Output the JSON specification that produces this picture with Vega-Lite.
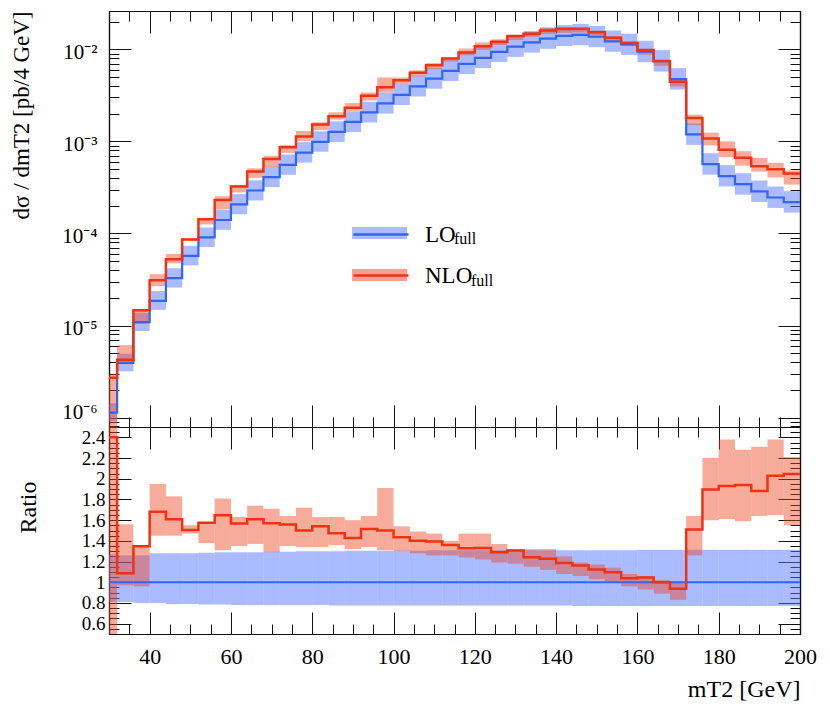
{
  "$schema": "https://vega.github.io/schema/vega-lite/v6.json",
  "background": "white",
  "padding": {"left": 9, "top": 10, "right": 10, "bottom": 4},
  "spacing": 0,
  "bounds": "flush",
  "resolve": {"scale": {"fill": "independent", "stroke": "independent"}},
  "config": {
    "view": {"stroke": null},
    "font": "Liberation Serif",
    "axis": {"grid": false, "domainColor": "#111", "tickColor": "#111", "labelColor": "#000", "titleColor": "#000", "labelFont": "Liberation Serif", "titleFont": "Liberation Serif", "titleFontWeight": "normal", "domainWidth": 1.2, "tickWidth": 1, "labelOverlap": false},
    "legend": {"labelFont": "Liberation Serif", "labelColor": "#000"}
  },
  "datasets": {
    "h": [
      {"series":"LO","x0":30,"x1":32,"y":1.13e-6,"ylo":9.15e-7,"yhi":1.435e-6,"r":1,"rlo":0.81,"rhi":1.27},
      {"series":"LO","x0":32,"x1":36,"y":3.92e-6,"ylo":3.175e-6,"yhi":4.939e-6,"r":1,"rlo":0.81,"rhi":1.26},
      {"series":"LO","x0":36,"x1":40,"y":1.09e-5,"ylo":8.72e-6,"yhi":1.373e-5,"r":1,"rlo":0.80,"rhi":1.26},
      {"series":"LO","x0":40,"x1":44,"y":1.85e-5,"ylo":1.48e-5,"yhi":2.368e-5,"r":1,"rlo":0.80,"rhi":1.28},
      {"series":"LO","x0":44,"x1":48,"y":3.27e-5,"ylo":2.583e-5,"yhi":4.186e-5,"r":1,"rlo":0.79,"rhi":1.28},
      {"series":"LO","x0":48,"x1":52,"y":5.71e-5,"ylo":4.511e-5,"yhi":7.309e-5,"r":1,"rlo":0.79,"rhi":1.28},
      {"series":"LO","x0":52,"x1":56,"y":9.06e-5,"ylo":7.112e-5,"yhi":1.164e-4,"r":1,"rlo":0.785,"rhi":1.285},
      {"series":"LO","x0":56,"x1":60,"y":1.40e-4,"ylo":1.099e-4,"yhi":1.806e-4,"r":1,"rlo":0.785,"rhi":1.29},
      {"series":"LO","x0":60,"x1":64,"y":2.07e-4,"ylo":1.615e-4,"yhi":2.670e-4,"r":1,"rlo":0.78,"rhi":1.29},
      {"series":"LO","x0":64,"x1":68,"y":2.93e-4,"ylo":2.285e-4,"yhi":3.780e-4,"r":1,"rlo":0.78,"rhi":1.29},
      {"series":"LO","x0":68,"x1":72,"y":4.09e-4,"ylo":3.190e-4,"yhi":5.297e-4,"r":1,"rlo":0.78,"rhi":1.295},
      {"series":"LO","x0":72,"x1":76,"y":5.56e-4,"ylo":4.337e-4,"yhi":7.200e-4,"r":1,"rlo":0.78,"rhi":1.295},
      {"series":"LO","x0":76,"x1":80,"y":7.55e-4,"ylo":5.889e-4,"yhi":9.815e-4,"r":1,"rlo":0.78,"rhi":1.30},
      {"series":"LO","x0":80,"x1":84,"y":9.90e-4,"ylo":7.722e-4,"yhi":1.287e-3,"r":1,"rlo":0.78,"rhi":1.30},
      {"series":"LO","x0":84,"x1":88,"y":1.27e-3,"ylo":9.843e-4,"yhi":1.651e-3,"r":1,"rlo":0.775,"rhi":1.30},
      {"series":"LO","x0":88,"x1":92,"y":1.63e-3,"ylo":1.263e-3,"yhi":2.127e-3,"r":1,"rlo":0.775,"rhi":1.305},
      {"series":"LO","x0":92,"x1":96,"y":2.07e-3,"ylo":1.604e-3,"yhi":2.701e-3,"r":1,"rlo":0.775,"rhi":1.305},
      {"series":"LO","x0":96,"x1":100,"y":2.59e-3,"ylo":2.007e-3,"yhi":3.380e-3,"r":1,"rlo":0.775,"rhi":1.305},
      {"series":"LO","x0":100,"x1":104,"y":3.21e-3,"ylo":2.488e-3,"yhi":4.189e-3,"r":1,"rlo":0.775,"rhi":1.305},
      {"series":"LO","x0":104,"x1":108,"y":3.97e-3,"ylo":3.077e-3,"yhi":5.181e-3,"r":1,"rlo":0.775,"rhi":1.305},
      {"series":"LO","x0":108,"x1":112,"y":4.82e-3,"ylo":3.736e-3,"yhi":6.314e-3,"r":1,"rlo":0.775,"rhi":1.31},
      {"series":"LO","x0":112,"x1":116,"y":5.84e-3,"ylo":4.526e-3,"yhi":7.650e-3,"r":1,"rlo":0.775,"rhi":1.31},
      {"series":"LO","x0":116,"x1":120,"y":6.95e-3,"ylo":5.386e-3,"yhi":9.105e-3,"r":1,"rlo":0.775,"rhi":1.31},
      {"series":"LO","x0":120,"x1":124,"y":8.10e-3,"ylo":6.278e-3,"yhi":1.0611e-2,"r":1,"rlo":0.775,"rhi":1.31},
      {"series":"LO","x0":124,"x1":128,"y":9.39e-3,"ylo":7.277e-3,"yhi":1.2301e-2,"r":1,"rlo":0.775,"rhi":1.31},
      {"series":"LO","x0":128,"x1":132,"y":1.07e-2,"ylo":8.293e-3,"yhi":1.4017e-2,"r":1,"rlo":0.775,"rhi":1.31},
      {"series":"LO","x0":132,"x1":136,"y":1.19e-2,"ylo":9.223e-3,"yhi":1.5589e-2,"r":1,"rlo":0.775,"rhi":1.31},
      {"series":"LO","x0":136,"x1":140,"y":1.31e-2,"ylo":1.0153e-2,"yhi":1.7161e-2,"r":1,"rlo":0.775,"rhi":1.31},
      {"series":"LO","x0":140,"x1":144,"y":1.40e-2,"ylo":1.085e-2,"yhi":1.834e-2,"r":1,"rlo":0.775,"rhi":1.31},
      {"series":"LO","x0":144,"x1":148,"y":1.44e-2,"ylo":1.1088e-2,"yhi":1.8864e-2,"r":1,"rlo":0.77,"rhi":1.31},
      {"series":"LO","x0":148,"x1":152,"y":1.37e-2,"ylo":1.0549e-2,"yhi":1.7947e-2,"r":1,"rlo":0.77,"rhi":1.31},
      {"series":"LO","x0":152,"x1":156,"y":1.22e-2,"ylo":9.394e-3,"yhi":1.5982e-2,"r":1,"rlo":0.77,"rhi":1.31},
      {"series":"LO","x0":156,"x1":160,"y":1.13e-2,"ylo":8.701e-3,"yhi":1.4803e-2,"r":1,"rlo":0.77,"rhi":1.31},
      {"series":"LO","x0":160,"x1":164,"y":9.42e-3,"ylo":7.253e-3,"yhi":1.2387e-2,"r":1,"rlo":0.77,"rhi":1.315},
      {"series":"LO","x0":164,"x1":168,"y":7.46e-3,"ylo":5.744e-3,"yhi":9.810e-3,"r":1,"rlo":0.77,"rhi":1.315},
      {"series":"LO","x0":168,"x1":172,"y":4.75e-3,"ylo":3.658e-3,"yhi":6.246e-3,"r":1,"rlo":0.77,"rhi":1.315},
      {"series":"LO","x0":172,"x1":176,"y":1.19e-3,"ylo":9.163e-4,"yhi":1.565e-3,"r":1,"rlo":0.77,"rhi":1.315},
      {"series":"LO","x0":176,"x1":180,"y":5.66e-4,"ylo":4.358e-4,"yhi":7.443e-4,"r":1,"rlo":0.77,"rhi":1.315},
      {"series":"LO","x0":180,"x1":184,"y":4.20e-4,"ylo":3.234e-4,"yhi":5.523e-4,"r":1,"rlo":0.77,"rhi":1.315},
      {"series":"LO","x0":184,"x1":188,"y":3.43e-4,"ylo":2.641e-4,"yhi":4.510e-4,"r":1,"rlo":0.77,"rhi":1.315},
      {"series":"LO","x0":188,"x1":192,"y":2.86e-4,"ylo":2.202e-4,"yhi":3.761e-4,"r":1,"rlo":0.77,"rhi":1.315},
      {"series":"LO","x0":192,"x1":196,"y":2.46e-4,"ylo":1.894e-4,"yhi":3.235e-4,"r":1,"rlo":0.77,"rhi":1.315},
      {"series":"LO","x0":196,"x1":200,"y":2.19e-4,"ylo":1.686e-4,"yhi":2.880e-4,"r":1,"rlo":0.77,"rhi":1.315},
      {"series":"NLO","x0":30,"x1":32,"y":2.71e-6,"ylo":4.52e-7,"yhi":2.94e-6,"r":2.40,"rlo":0.4,"rhi":2.6},
      {"series":"NLO","x0":32,"x1":36,"y":4.26e-6,"ylo":3.80e-6,"yhi":6.12e-6,"r":1.087,"rlo":0.97,"rhi":1.56},
      {"series":"NLO","x0":36,"x1":40,"y":1.468e-5,"ylo":1.046e-5,"yhi":1.472e-5,"r":1.347,"rlo":0.96,"rhi":1.35},
      {"series":"NLO","x0":40,"x1":44,"y":3.11e-5,"ylo":2.683e-5,"yhi":3.608e-5,"r":1.682,"rlo":1.45,"rhi":1.95},
      {"series":"NLO","x0":44,"x1":48,"y":5.26e-5,"ylo":4.742e-5,"yhi":5.984e-5,"r":1.608,"rlo":1.45,"rhi":1.83},
      {"series":"NLO","x0":48,"x1":52,"y":8.59e-5,"ylo":8.394e-5,"yhi":8.851e-5,"r":1.505,"rlo":1.47,"rhi":1.55},
      {"series":"NLO","x0":52,"x1":56,"y":1.428e-4,"ylo":1.250e-4,"yhi":1.431e-4,"r":1.576,"rlo":1.38,"rhi":1.58},
      {"series":"NLO","x0":56,"x1":60,"y":2.306e-4,"ylo":1.834e-4,"yhi":2.534e-4,"r":1.647,"rlo":1.31,"rhi":1.81},
      {"series":"NLO","x0":60,"x1":64,"y":3.244e-4,"ylo":2.795e-4,"yhi":3.374e-4,"r":1.567,"rlo":1.35,"rhi":1.63},
      {"series":"NLO","x0":64,"x1":68,"y":4.711e-4,"ylo":4.014e-4,"yhi":5.098e-4,"r":1.608,"rlo":1.37,"rhi":1.74},
      {"series":"NLO","x0":68,"x1":72,"y":6.421e-4,"ylo":5.276e-4,"yhi":6.994e-4,"r":1.570,"rlo":1.29,"rhi":1.71},
      {"series":"NLO","x0":72,"x1":76,"y":8.657e-4,"ylo":7.506e-4,"yhi":9.118e-4,"r":1.557,"rlo":1.35,"rhi":1.64},
      {"series":"NLO","x0":76,"x1":80,"y":1.132e-3,"ylo":1.012e-3,"yhi":1.299e-3,"r":1.499,"rlo":1.34,"rhi":1.72},
      {"series":"NLO","x0":80,"x1":84,"y":1.526e-3,"ylo":1.327e-3,"yhi":1.614e-3,"r":1.541,"rlo":1.34,"rhi":1.63},
      {"series":"NLO","x0":84,"x1":88,"y":1.871e-3,"ylo":1.727e-3,"yhi":2.070e-3,"r":1.473,"rlo":1.36,"rhi":1.63},
      {"series":"NLO","x0":88,"x1":92,"y":2.328e-3,"ylo":2.152e-3,"yhi":2.608e-3,"r":1.428,"rlo":1.32,"rhi":1.60},
      {"series":"NLO","x0":92,"x1":96,"y":3.136e-3,"ylo":2.774e-3,"yhi":3.395e-3,"r":1.515,"rlo":1.34,"rhi":1.64},
      {"series":"NLO","x0":96,"x1":100,"y":3.882e-3,"ylo":3.393e-3,"yhi":4.947e-3,"r":1.499,"rlo":1.31,"rhi":1.91},
      {"series":"NLO","x0":100,"x1":104,"y":4.603e-3,"ylo":4.173e-3,"yhi":4.943e-3,"r":1.434,"rlo":1.30,"rhi":1.54},
      {"series":"NLO","x0":104,"x1":108,"y":5.566e-3,"ylo":5.082e-3,"yhi":5.915e-3,"r":1.402,"rlo":1.28,"rhi":1.49},
      {"series":"NLO","x0":108,"x1":112,"y":6.714e-3,"ylo":6.073e-3,"yhi":7.085e-3,"r":1.393,"rlo":1.26,"rhi":1.47},
      {"series":"NLO","x0":112,"x1":116,"y":7.948e-3,"ylo":7.358e-3,"yhi":8.176e-3,"r":1.361,"rlo":1.26,"rhi":1.40},
      {"series":"NLO","x0":116,"x1":120,"y":9.230e-3,"ylo":8.618e-3,"yhi":1.0217e-2,"r":1.328,"rlo":1.24,"rhi":1.47},
      {"series":"NLO","x0":120,"x1":124,"y":1.079e-2,"ylo":9.882e-3,"yhi":1.1907e-2,"r":1.332,"rlo":1.22,"rhi":1.47},
      {"series":"NLO","x0":124,"x1":128,"y":1.211e-2,"ylo":1.1174e-2,"yhi":1.2864e-2,"r":1.290,"rlo":1.19,"rhi":1.37},
      {"series":"NLO","x0":128,"x1":132,"y":1.397e-2,"ylo":1.2626e-2,"yhi":1.4124e-2,"r":1.306,"rlo":1.18,"rhi":1.32},
      {"series":"NLO","x0":132,"x1":136,"y":1.477e-2,"ylo":1.3685e-2,"yhi":1.5708e-2,"r":1.241,"rlo":1.15,"rhi":1.32},
      {"series":"NLO","x0":136,"x1":140,"y":1.606e-2,"ylo":1.4672e-2,"yhi":1.7292e-2,"r":1.226,"rlo":1.12,"rhi":1.32},
      {"series":"NLO","x0":140,"x1":144,"y":1.662e-2,"ylo":1.512e-2,"yhi":1.75e-2,"r":1.187,"rlo":1.08,"rhi":1.25},
      {"series":"NLO","x0":144,"x1":148,"y":1.672e-2,"ylo":1.5264e-2,"yhi":1.7136e-2,"r":1.161,"rlo":1.06,"rhi":1.19},
      {"series":"NLO","x0":148,"x1":152,"y":1.537e-2,"ylo":1.4111e-2,"yhi":1.6029e-2,"r":1.122,"rlo":1.03,"rhi":1.17},
      {"series":"NLO","x0":152,"x1":156,"y":1.338e-2,"ylo":1.2322e-2,"yhi":1.3908e-2,"r":1.097,"rlo":1.01,"rhi":1.14},
      {"series":"NLO","x0":156,"x1":160,"y":1.174e-2,"ylo":1.0848e-2,"yhi":1.2204e-2,"r":1.039,"rlo":0.96,"rhi":1.08},
      {"series":"NLO","x0":160,"x1":164,"y":9.844e-3,"ylo":8.761e-3,"yhi":9.985e-3,"r":1.045,"rlo":0.93,"rhi":1.06},
      {"series":"NLO","x0":164,"x1":168,"y":7.46e-3,"ylo":6.639e-3,"yhi":7.609e-3,"r":1.000,"rlo":0.89,"rhi":1.02},
      {"series":"NLO","x0":168,"x1":172,"y":4.446e-3,"ylo":3.943e-3,"yhi":4.75e-3,"r":0.936,"rlo":0.83,"rhi":1.00},
      {"series":"NLO","x0":172,"x1":176,"y":1.796e-3,"ylo":1.499e-3,"yhi":1.952e-3,"r":1.509,"rlo":1.26,"rhi":1.64},
      {"series":"NLO","x0":176,"x1":180,"y":1.073e-3,"ylo":9.056e-4,"yhi":1.245e-3,"r":1.895,"rlo":1.60,"rhi":2.20},
      {"series":"NLO","x0":180,"x1":184,"y":8.106e-4,"ylo":6.762e-4,"yhi":9.996e-4,"r":1.930,"rlo":1.61,"rhi":2.38},
      {"series":"NLO","x0":184,"x1":188,"y":6.654e-4,"ylo":5.454e-4,"yhi":7.820e-4,"r":1.940,"rlo":1.59,"rhi":2.28},
      {"series":"NLO","x0":188,"x1":192,"y":5.383e-4,"ylo":4.690e-4,"yhi":6.607e-4,"r":1.882,"rlo":1.64,"rhi":2.31},
      {"series":"NLO","x0":192,"x1":196,"y":4.994e-4,"ylo":4.059e-4,"yhi":5.855e-4,"r":2.030,"rlo":1.65,"rhi":2.38},
      {"series":"NLO","x0":196,"x1":200,"y":4.481e-4,"ylo":3.395e-4,"yhi":4.840e-4,"r":2.046,"rlo":1.55,"rhi":2.21}
    ]
  },
  "vconcat": [
    {
      "width": 691,
      "height": 416,
      "data": {"name": "h"},
      "resolve": {"axis": {"x": "independent", "y": "independent"}},
      "layer": [
        {
          "transform": [{"filter": "datum.series == 'LO'"}],
          "mark": {"type": "rect", "fillOpacity": 0.5, "strokeWidth": 0, "clip": true},
          "encoding": {
            "x": {"field": "x0", "type": "quantitative", "scale": {"domain": [30, 200], "nice": false, "zero": false},
                  "axis": {"orient": "bottom", "values": [40,60,80,100,120,140,160,180,200], "labels": false, "tickSize": -22, "title": null}},
            "x2": {"field": "x1"},
            "y": {"field": "ylo", "type": "quantitative", "scale": {"type": "log", "domain": [7.9e-7, 0.0261], "nice": false},
                  "axis": {"orient": "left", "values": [1e-6, 1e-5, 1e-4, 1e-3, 1e-2], "tickSize": -22, "labelPadding": 34, "labelFontSize": 21,
                           "labelOffset": {"condition": {"test": "datum.value < 2e-6", "value": -5}, "value": 3},
                           "labelExpr": "'10⁻' + ['⁰','¹','²','³','⁴','⁵','⁶','⁷'][round(-log(datum.value)/LN10)]",
                           "title": "dσ / dmT2 [pb/4 GeV]", "titleFontSize": 23, "titleFontWeight": "normal", "titleAnchor": "end", "titlePadding": 30, "minExtent": 46, "maxExtent": 46}},
            "y2": {"field": "yhi"},
            "fill": {"field": "series", "type": "nominal", "scale": {"domain": ["LO", "NLO"], "range": ["#5577ff", "#ee4422"]},
                     "legend": {"orient": "none", "legendX": 243, "legendY": 194.5, "title": null, "padding": 0,
                                "symbolType": "M-1,-0.22H1V0.22H-1Z", "symbolSize": 3025, "symbolOpacity": 0.5, "symbolStrokeWidth": 0,
                                "labelExpr": "'full'", "labelFontSize": 16, "labelOffset": 47, "rowPadding": -16,
                                "encode": {"labels": {"update": {"dx": {"signal": "datum.value === 'NLO' ? 17 : 0"}, "dy": {"value": 6}}}}}}
          }
        },
        {
          "transform": [{"filter": "datum.series == 'NLO'"}],
          "mark": {"type": "rect", "fillOpacity": 0.45, "strokeWidth": 0, "clip": true},
          "encoding": {
            "x": {"field": "x0", "type": "quantitative",
                  "axis": {"orient": "bottom", "values": [30,35,40,45,50,55,60,65,70,75,80,85,90,95,100,105,110,115,120,125,130,135,140,145,150,155,160,165,170,175,180,185,190,195,200], "labels": false, "tickSize": -10, "title": null}},
            "x2": {"field": "x1"},
            "y": {"field": "ylo", "type": "quantitative",
                  "axis": {"orient": "left", "values": [8e-7,9e-7,2e-6,3e-6,4e-6,5e-6,6e-6,7e-6,8e-6,9e-6,2e-5,3e-5,4e-5,5e-5,6e-5,7e-5,8e-5,9e-5,2e-4,3e-4,4e-4,5e-4,6e-4,7e-4,8e-4,9e-4,0.002,0.003,0.004,0.005,0.006,0.007,0.008,0.009,0.02], "labels": false, "tickSize": -10, "title": null}},
            "y2": {"field": "yhi"},
            "fill": {"field": "series", "type": "nominal"}
          }
        },
        {
          "transform": [{"filter": "datum.series == 'LO'"}, {"fold": ["x0", "x1"], "as": ["edge", "xe"]}],
          "mark": {"type": "line", "strokeWidth": 2.2, "clip": true},
          "encoding": {
            "x": {"field": "xe", "type": "quantitative",
                  "axis": {"orient": "top", "values": [40,60,80,100,120,140,160,180,200], "labels": false, "tickSize": -22, "title": null}},
            "y": {"field": "y", "type": "quantitative",
                  "axis": {"orient": "right", "values": [1e-6, 1e-5, 1e-4, 1e-3, 1e-2], "labels": false, "tickSize": -22, "title": null}},
            "stroke": {"field": "series", "type": "nominal", "scale": {"range": ["#3366ee", "#ee3311"]},
                       "legend": {"orient": "none", "legendX": 243, "legendY": 194.5, "title": null, "padding": 0,
                                  "symbolType": "M-1,0H1", "symbolSize": 3025, "symbolStrokeWidth": 2.5,
                                  "labelFontSize": 23, "labelOffset": 15, "rowPadding": -16}},
            "order": [{"field": "xe", "type": "quantitative"}, {"field": "edge", "type": "nominal", "sort": "descending"}]
          }
        },
        {
          "transform": [{"filter": "datum.series == 'NLO'"}, {"fold": ["x0", "x1"], "as": ["edge", "xe"]}],
          "mark": {"type": "line", "strokeWidth": 2.5, "clip": true},
          "encoding": {
            "x": {"field": "xe", "type": "quantitative",
                  "axis": {"orient": "top", "values": [30,35,40,45,50,55,60,65,70,75,80,85,90,95,100,105,110,115,120,125,130,135,140,145,150,155,160,165,170,175,180,185,190,195,200], "labels": false, "tickSize": -10, "title": null}},
            "y": {"field": "y", "type": "quantitative",
                  "axis": {"orient": "right", "values": [8e-7,9e-7,2e-6,3e-6,4e-6,5e-6,6e-6,7e-6,8e-6,9e-6,2e-5,3e-5,4e-5,5e-5,6e-5,7e-5,8e-5,9e-5,2e-4,3e-4,4e-4,5e-4,6e-4,7e-4,8e-4,9e-4,0.002,0.003,0.004,0.005,0.006,0.007,0.008,0.009,0.02], "labels": false, "tickSize": -10, "title": null}},
            "stroke": {"field": "series", "type": "nominal"},
            "order": [{"field": "xe", "type": "quantitative"}, {"field": "edge", "type": "nominal", "sort": "descending"}]
          }
        }
      ]
    },
    {
      "width": 691,
      "height": 207,
      "data": {"name": "h"},
      "resolve": {"axis": {"x": "independent", "y": "independent"}},
      "layer": [
        {
          "transform": [{"filter": "datum.series == 'LO'"}],
          "mark": {"type": "rect", "fillOpacity": 0.5, "strokeWidth": 0, "clip": true},
          "encoding": {
            "x": {"field": "x0", "type": "quantitative", "scale": {"domain": [30, 200], "nice": false, "zero": false},
                  "axis": {"orient": "bottom", "values": [40,60,80,100,120,140,160,180,200], "tickSize": -22, "labelPadding": 34, "labelFontSize": 22, "labelFlush": false, "format": "d",
                           "title": "mT2 [GeV]", "titleFontSize": 24, "titleFontWeight": "normal", "titleAnchor": "end", "titlePadding": 10}},
            "x2": {"field": "x1"},
            "y": {"field": "rlo", "type": "quantitative", "scale": {"domain": [0.5, 2.5], "nice": false, "zero": false},
                  "axis": {"orient": "left", "values": [0.6,0.8,1,1.2,1.4,1.6,1.8,2,2.2,2.4], "tickSize": -22, "labelPadding": 26, "labelFontSize": 19, "format": "~g",
                           "title": "Ratio", "titleFontSize": 24, "titleFontWeight": "normal", "titlePadding": 37, "minExtent": 32, "maxExtent": 32, "titleY": 80}},
            "y2": {"field": "rhi"},
            "fill": {"field": "series", "type": "nominal", "scale": {"domain": ["LO", "NLO"], "range": ["#5577ff", "#ee4422"]}, "legend": null}
          }
        },
        {
          "transform": [{"filter": "datum.series == 'NLO'"}],
          "mark": {"type": "rect", "fillOpacity": 0.45, "strokeWidth": 0, "clip": true},
          "encoding": {
            "x": {"field": "x0", "type": "quantitative",
                  "axis": {"orient": "bottom", "values": [30,35,40,45,50,55,60,65,70,75,80,85,90,95,100,105,110,115,120,125,130,135,140,145,150,155,160,165,170,175,180,185,190,195,200], "labels": false, "tickSize": -10, "title": null}},
            "x2": {"field": "x1"},
            "y": {"field": "rlo", "type": "quantitative",
                  "axis": {"orient": "left", "values": [0.5,0.55,0.6,0.65,0.7,0.75,0.8,0.85,0.9,0.95,1,1.05,1.1,1.15,1.2,1.25,1.3,1.35,1.4,1.45,1.5,1.55,1.6,1.65,1.7,1.75,1.8,1.85,1.9,1.95,2,2.05,2.1,2.15,2.2,2.25,2.3,2.35,2.4,2.45,2.5], "labels": false, "tickSize": -10, "title": null}},
            "y2": {"field": "rhi"},
            "fill": {"field": "series", "type": "nominal"}
          }
        },
        {
          "transform": [{"filter": "datum.series == 'LO'"}, {"fold": ["x0", "x1"], "as": ["edge", "xe"]}],
          "mark": {"type": "line", "strokeWidth": 2.2, "clip": true},
          "encoding": {
            "x": {"field": "xe", "type": "quantitative",
                  "axis": {"orient": "top", "values": [40,60,80,100,120,140,160,180,200], "labels": false, "tickSize": -22, "title": null}},
            "y": {"field": "r", "type": "quantitative",
                  "axis": {"orient": "right", "values": [0.6,0.8,1,1.2,1.4,1.6,1.8,2,2.2,2.4], "labels": false, "tickSize": -22, "title": null}},
            "stroke": {"field": "series", "type": "nominal", "scale": {"range": ["#3366ee", "#ee3311"]}, "legend": null},
            "order": [{"field": "xe", "type": "quantitative"}, {"field": "edge", "type": "nominal", "sort": "descending"}]
          }
        },
        {
          "transform": [{"filter": "datum.series == 'NLO'"}, {"fold": ["x0", "x1"], "as": ["edge", "xe"]}],
          "mark": {"type": "line", "strokeWidth": 2.5, "clip": true},
          "encoding": {
            "x": {"field": "xe", "type": "quantitative",
                  "axis": {"orient": "top", "values": [30,35,40,45,50,55,60,65,70,75,80,85,90,95,100,105,110,115,120,125,130,135,140,145,150,155,160,165,170,175,180,185,190,195,200], "labels": false, "tickSize": -10, "title": null}},
            "y": {"field": "r", "type": "quantitative",
                  "axis": {"orient": "right", "values": [0.5,0.55,0.6,0.65,0.7,0.75,0.8,0.85,0.9,0.95,1,1.05,1.1,1.15,1.2,1.25,1.3,1.35,1.4,1.45,1.5,1.55,1.6,1.65,1.7,1.75,1.8,1.85,1.9,1.95,2,2.05,2.1,2.15,2.2,2.25,2.3,2.35,2.4,2.45,2.5], "labels": false, "tickSize": -10, "title": null}},
            "stroke": {"field": "series", "type": "nominal"},
            "order": [{"field": "xe", "type": "quantitative"}, {"field": "edge", "type": "nominal", "sort": "descending"}]
          }
        }
      ]
    }
  ]
}
